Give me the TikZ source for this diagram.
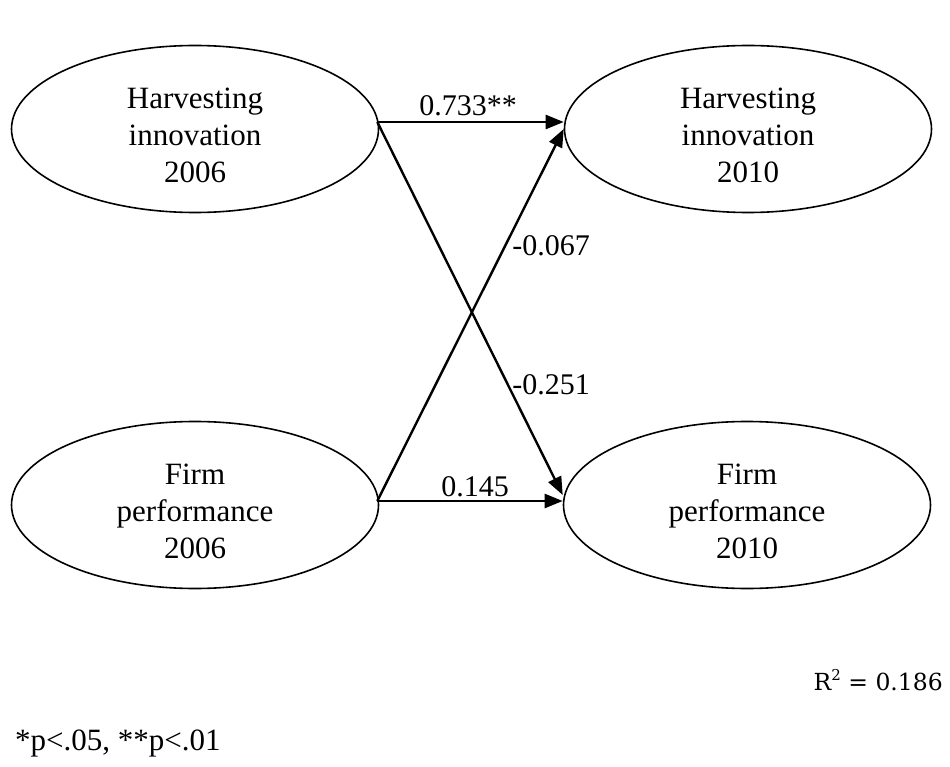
\documentclass[tikz,border=0pt]{standalone}
\usepackage{fontspec}
\setmainfont{Liberation Serif}
\newfontfamily\rfont{DejaVu Serif}
\usetikzlibrary{shapes.geometric,arrows.meta}
\begin{document}
\begin{tikzpicture}[x=1pt,y=-1pt,
  latent/.style={draw,ellipse,line width=1.6pt,minimum width=367pt,minimum height=167pt,inner sep=0pt},
  ltext/.style={inner sep=0pt,align=center,font=\fontsize{31}{37}\selectfont},
  path/.style={line width=2.4pt,-{Triangle[length=18pt,width=14pt]}},
  coef/.style={font=\fontsize{30}{34}\selectfont,inner sep=0pt}]
\useasboundingbox (0,0) rectangle (950,767);
\node[latent] (hi06) at (195,129) {};
\node[latent] (hi10) at (748,129) {};
\node[latent] (fp06) at (195,505) {};
\node[latent] (fp10) at (747,505) {};
\node[ltext] (hi06t) at ([yshift=-6pt]hi06.center) {Harvesting\\innovation\\2006};
\node[ltext] (hi10t) at ([yshift=-6pt]hi10.center) {Harvesting\\innovation\\2010};
\node[ltext] (fp06t) at ([yshift=-6pt]fp06.center) {Firm\\performance\\2006};
\node[ltext] (fp10t) at ([yshift=-6pt]fp10.center) {Firm\\performance\\2010};
\coordinate (a) at ([xshift=-2pt,yshift=7pt]hi06.east);
\coordinate (b) at ([xshift=-2pt,yshift=4pt]fp06.east);
\coordinate (c) at ([yshift=7pt]hi10.west);
\coordinate (d) at ([yshift=4pt]fp10.west);
\draw[path] (a) -- (c);
\draw[path] (b) -- (d);
\draw[path] (a) -- ([yshift=10pt]fp10.west);
\draw[path] (b) -- ([yshift=0pt]hi10.west);
\node[coef] (l1) at (468,106) {0.733**};
\node[coef] (l2) at (475,487) {0.145};
\node[coef] (l3) at (551,246) {-0.067};
\node[coef] (l4) at (551,385) {-0.251};
\node[anchor=base east,inner sep=0pt,font=\rfont\fontsize{23.5}{26}\selectfont] (r2) at (943,690) {R\raisebox{0.42em}{\fontsize{15}{15}\selectfont 2} = 0.186};
\node[anchor=base west,inner sep=0pt,font=\fontsize{31}{34}\selectfont] (fn) at (15,750) {*p<.05, **p<.01};
\end{tikzpicture}
\end{document}
